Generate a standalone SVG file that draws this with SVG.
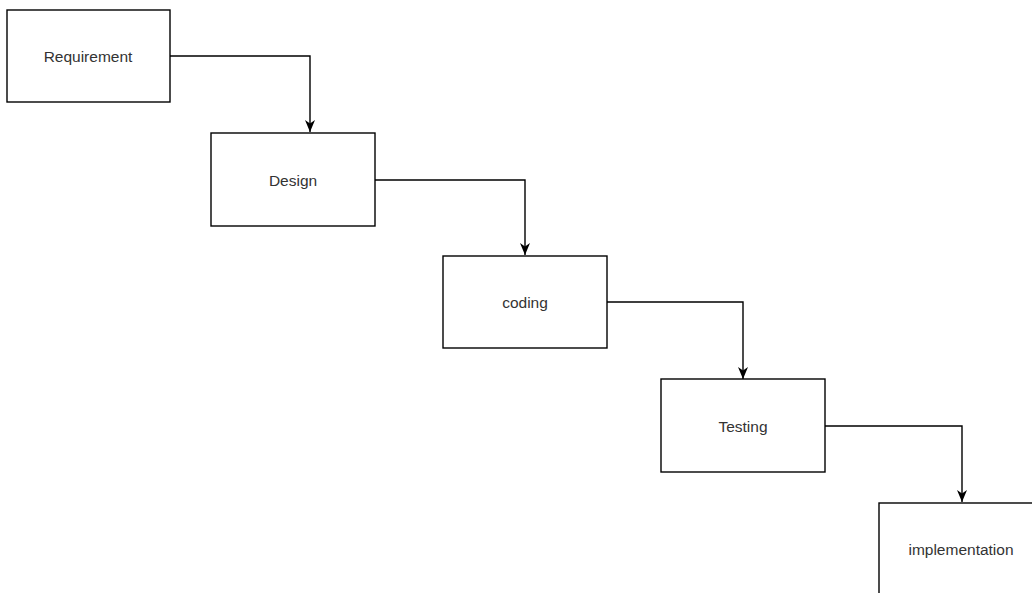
<svg xmlns="http://www.w3.org/2000/svg" width="1032" height="593" viewBox="0 0 1032 593">
<style>
.box{fill:#fff;stroke:#000;stroke-width:1.4}
.lbl{font-family:"Liberation Sans",Arial,sans-serif;font-size:15.5px;fill:#333;text-anchor:middle;dominant-baseline:central}
.edge{fill:none;stroke:#000;stroke-width:1.4}
</style>
<defs>
<marker id="arr" viewBox="0 0 12 12" refX="12" refY="6" markerWidth="12" markerHeight="12" markerUnits="userSpaceOnUse" orient="auto">
<path d="M0,1 L12,6 L0,11 L3.5,6 Z" fill="#000"/>
</marker>
</defs>
<rect width="1032" height="593" fill="#fff"/>
<g id="connectors">
<path class="edge" d="M170,56 H310 V132" marker-end="url(#arr)"/>
<path class="edge" d="M375,180 H525 V255" marker-end="url(#arr)"/>
<path class="edge" d="M607,302 H743 V379" marker-end="url(#arr)"/>
<path class="edge" d="M825,426 H962 V502" marker-end="url(#arr)"/>
</g>
<g id="requirement"><rect class="box" x="7" y="10" width="163" height="92"/><text class="lbl" x="88" y="56">Requirement</text></g>
<g id="design"><rect class="box" x="211" y="133" width="164" height="93"/><text class="lbl" x="293" y="180">Design</text></g>
<g id="coding"><rect class="box" x="443" y="256" width="164" height="92"/><text class="lbl" x="525" y="302">coding</text></g>
<g id="testing"><rect class="box" x="661" y="379" width="164" height="93"/><text class="lbl" x="743" y="426">Testing</text></g>
<g id="implementation"><rect class="box" x="879" y="503" width="164" height="92"/><text class="lbl" x="961" y="549">implementation</text></g>
</svg>
